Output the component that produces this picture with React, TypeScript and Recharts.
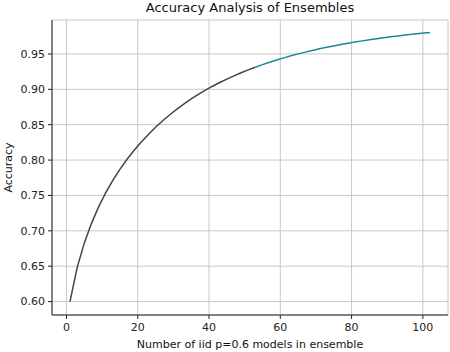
import React from "react";
import {
  LineChart,
  Line,
  XAxis,
  YAxis,
  CartesianGrid,
} from "recharts";

// ensemble size (odd n, last point at 102)
const ensembleSizes = [
  1, 3, 5, 7, 9, 11, 13, 15, 17, 19, 21, 23, 25, 27, 29, 31, 33, 35, 37, 39,
  41, 43, 45, 47, 49, 51, 53, 55, 57, 59, 61, 63, 65, 67, 69, 71, 73, 75, 77,
  79, 81, 83, 85, 87, 89, 91, 93, 95, 97, 99, 101, 102,
];

const accuracy = [
  0.6, 0.648, 0.6826, 0.7102, 0.7334, 0.7535, 0.7712, 0.7869, 0.8011, 0.8139,
  0.8256, 0.8362, 0.8463, 0.8556, 0.8641, 0.8721, 0.8795, 0.8864, 0.8928,
  0.8988, 0.9044, 0.9096, 0.9145, 0.9191, 0.9235, 0.9275, 0.9313, 0.9349,
  0.9383, 0.9415, 0.9445, 0.9474, 0.9501, 0.9526, 0.955, 0.9573, 0.9594,
  0.9614, 0.9634, 0.9652, 0.9669, 0.9685, 0.9701, 0.9715, 0.9729, 0.9742,
  0.9755, 0.9767, 0.9778, 0.9789, 0.9799, 0.98,
];

// the curve changes colour around n = 53
const colourSplit = 53;

const xTicks = [0, 20, 40, 60, 80, 100];
const yTicks = [0.6, 0.65, 0.7, 0.75, 0.8, 0.85, 0.9, 0.95];

const data = ensembleSizes.map((n, i) => ({
  n,
  early: n <= colourSplit ? accuracy[i] : null,
  late: n >= colourSplit ? accuracy[i] : null,
}));

const font = "'DejaVu Sans', sans-serif";
const tickStyle = { fontSize: 11, fill: "#222", fontFamily: font };

export default function App() {
  return (
    <div
      style={{
        position: "absolute",
        left: 0,
        top: 0,
        width: 450,
        height: 352,
        background: "#fff",
        fontFamily: font,
      }}
    >
      <div
        style={{
          position: "absolute",
          left: 52,
          width: 396,
          top: 0,
          textAlign: "center",
          fontSize: 13,
          color: "#111",
        }}
      >
        Accuracy Analysis of Ensembles
      </div>
      <LineChart
        width={450}
        height={352}
        data={data}
        margin={{ top: 20, right: 2, bottom: 0, left: 0 }}
      >
        <CartesianGrid xAxisId="bottom" yAxisId="left" stroke="#c8c8c8" strokeWidth={1} />
        <XAxis
          xAxisId="bottom"
          dataKey="n"
          type="number"
          domain={[-4.05, 107.05]}
          ticks={xTicks}
          allowDataOverflow
          height={37}
          tick={tickStyle}
          tickSize={4}
          tickMargin={4}
          stroke="#222"
          label={{
            value: "Number of iid p=0.6 models in ensemble",
            position: "insideBottom",
            offset: 4,
            style: { fontSize: 11, fill: "#111", fontFamily: font },
          }}
        />
        <XAxis
          xAxisId="top"
          orientation="top"
          dataKey="n"
          type="number"
          domain={[-4.05, 107.05]}
          height={0}
          tick={false}
          tickLine={false}
          stroke="#222"
        />
        <YAxis
          yAxisId="left"
          type="number"
          domain={[0.581, 0.998]}
          ticks={yTicks}
          allowDataOverflow
          width={52}
          tick={tickStyle}
          tickFormatter={(v: number) => v.toFixed(2)}
          tickSize={4}
          tickMargin={3}
          stroke="#222"
          label={{
            value: "Accuracy",
            angle: -90,
            position: "insideLeft",
            offset: 8,
            style: { fontSize: 11, fill: "#111", fontFamily: font, textAnchor: "middle" },
          }}
        />
        <YAxis
          yAxisId="right"
          orientation="right"
          type="number"
          domain={[0.581, 0.998]}
          width={0}
          tick={false}
          tickLine={false}
          stroke="#333"
          strokeWidth={2}
        />
        <Line
          xAxisId="bottom"
          yAxisId="left"
          dataKey="early"
          stroke="#444"
          strokeWidth={1.5}
          dot={false}
          connectNulls={false}
          isAnimationActive={false}
        />
        <Line
          xAxisId="bottom"
          yAxisId="left"
          dataKey="late"
          stroke="#1f8796"
          strokeWidth={1.5}
          dot={false}
          connectNulls={false}
          isAnimationActive={false}
        />
      </LineChart>
    </div>
  );
}
